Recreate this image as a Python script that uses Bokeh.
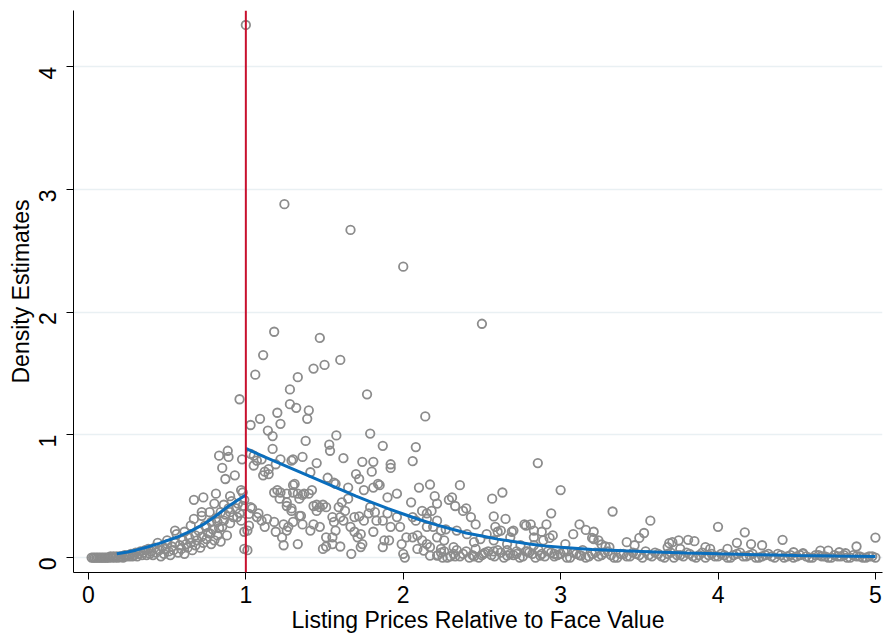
import math
from bokeh.plotting import figure
from bokeh.models import ColumnDataSource, Range1d, Span, FixedTicker
from bokeh.embed import file_html
from bokeh.resources import INLINE

# Kernel-density estimates of listing prices (price / face value)
# Each group holds (price ratio, density) pairs.
near_zero_low = [
    (0.02, 0.0), (0.03, 0.0), (0.04, 0.0), (0.05, 0.0), (0.06, 0.0), (0.07, 0.0),
    (0.08, 0.0), (0.09, 0.0), (0.10, 0.0), (0.11, 0.0), (0.12, 0.0), (0.13, 0.0),
    (0.14, 0.01), (0.15, 0.0), (0.16, 0.01), (0.17, 0.0), (0.18, 0.01), (0.19, 0.0),
    (0.20, 0.01), (0.21, 0.01), (0.22, 0.0), (0.23, 0.02), (0.24, 0.01), (0.25, 0.02),
    (0.26, 0.01), (0.27, 0.03), (0.28, 0.01), (0.29, 0.02), (0.30, 0.04), (0.31, 0.01),
    (0.32, 0.03), (0.33, 0.05), (0.34, 0.02), (0.35, 0.04), (0.36, 0.06), (0.37, 0.02),
    (0.38, 0.07), (0.39, 0.03), (0.40, 0.05),
]

below_face = [
    (0.41, 0.02), (0.42, 0.08), (0.43, 0.04), (0.44, 0.12), (0.45, 0.06), (0.46, 0.01),
    (0.47, 0.09), (0.48, 0.03), (0.49, 0.07), (0.50, 0.14), (0.50, 0.11), (0.51, 0.05),
    (0.52, 0.02), (0.53, 0.09), (0.54, 0.06), (0.55, 0.22), (0.55, 0.12), (0.56, 0.19),
    (0.57, 0.04), (0.58, 0.10), (0.59, 0.07), (0.60, 0.14), (0.61, 0.21), (0.61, 0.03),
    (0.62, 0.11), (0.63, 0.08), (0.64, 0.16), (0.65, 0.26), (0.65, 0.12), (0.66, 0.06),
    (0.67, 0.47), (0.67, 0.315), (0.68, 0.18), (0.68, 0.10), (0.69, 0.14), (0.70, 0.22),
    (0.71, 0.08), (0.72, 0.37), (0.72, 0.34), (0.72, 0.17), (0.73, 0.49), (0.73, 0.12),
    (0.74, 0.26), (0.75, 0.25), (0.75, 0.15), (0.76, 0.20), (0.77, 0.37), (0.775, 0.195),
    (0.78, 0.29), (0.78, 0.11), (0.79, 0.23), (0.80, 0.44), (0.80, 0.14), (0.81, 0.52),
    (0.81, 0.32), (0.82, 0.29), (0.82, 0.18), (0.83, 0.83), (0.83, 0.24), (0.84, 0.37),
    (0.84, 0.13), (0.85, 0.73), (0.85, 0.25), (0.86, 0.43), (0.86, 0.30), (0.87, 0.64),
    (0.87, 0.35), (0.88, 0.18), (0.885, 0.87), (0.89, 0.82), (0.89, 0.40), (0.90, 0.50),
    (0.90, 0.37), (0.90, 0.28), (0.91, 0.46), (0.92, 0.33), (0.93, 0.67), (0.94, 0.40),
    (0.945, 0.33), (0.95, 0.44), (0.96, 1.29), (0.96, 0.36), (0.97, 0.55), (0.97, 0.30),
    (0.976, 0.80), (0.98, 0.53), (0.98, 0.42), (0.99, 0.21), (0.99, 0.07), (0.99, 0.47),
]

above_face_a = [
    (1.0, 4.34), (1.01, 0.06), (1.01, 0.22), (1.02, 0.26), (1.02, 0.355), (1.03, 0.41),
    (1.03, 1.08), (1.03, 0.845), (1.04, 0.40), (1.05, 0.75), (1.05, 0.83), (1.06, 1.49),
    (1.07, 0.33), (1.07, 0.79), (1.08, 0.36), (1.09, 1.13), (1.10, 0.30), (1.10, 0.80),
    (1.11, 0.67), (1.11, 1.65), (1.12, 0.25), (1.12, 0.70), (1.135, 0.315), (1.145, 0.72),
    (1.145, 0.68), (1.14, 1.035), (1.17, 0.99), (1.17, 0.885), (1.18, 0.53), (1.18, 1.84),
    (1.18, 0.29), (1.19, 0.76), (1.19, 0.21), (1.20, 0.55), (1.20, 1.18), (1.215, 0.48),
    (1.22, 1.09), (1.22, 0.80), (1.22, 0.53), (1.23, 0.165), (1.24, 0.27), (1.24, 0.10),
    (1.245, 2.88), (1.26, 0.52), (1.26, 0.45), (1.26, 0.42), (1.26, 0.22), (1.27, 0.25),
    (1.28, 1.37), (1.28, 1.25), (1.29, 0.40), (1.29, 0.38), (1.29, 0.79), (1.30, 0.80),
    (1.30, 0.59), (1.30, 0.29), (1.30, 0.53), (1.31, 0.60), (1.32, 1.22), (1.33, 1.47),
    (1.33, 0.11), (1.33, 0.52), (1.34, 0.48), (1.34, 0.34), (1.35, 0.34), (1.36, 0.82),
    (1.36, 0.51), (1.36, 0.27), (1.37, 0.52), (1.38, 0.95), (1.39, 1.13), (1.40, 1.20),
    (1.40, 0.52), (1.41, 0.695), (1.41, 0.22), (1.42, 0.55), (1.43, 1.54), (1.43, 0.42),
    (1.43, 0.27), (1.45, 0.77), (1.45, 0.43), (1.45, 0.38), (1.47, 1.79), (1.47, 0.41),
    (1.47, 0.25), (1.49, 0.43), (1.49, 0.07), (1.50, 1.57), (1.51, 0.41), (1.51, 0.165),
    (1.51, 0.09), (1.52, 0.65), (1.53, 0.92), (1.535, 0.87), (1.55, 0.33), (1.55, 0.11),
    (1.55, 0.165), (1.56, 0.61), (1.56, 0.29), (1.57, 0.60), (1.57, 0.22), (1.575, 0.995),
    (1.59, 0.41), (1.60, 1.61), (1.60, 0.33), (1.60, 0.09),
]

above_face_b = [
    (1.61, 0.45), (1.62, 0.81), (1.62, 0.30), (1.63, 0.38), (1.65, 0.48), (1.65, 0.57),
    (1.665, 2.67), (1.665, 0.25), (1.67, 0.03), (1.69, 0.21), (1.69, 0.33), (1.70, 0.68),
    (1.71, 0.165), (1.72, 0.64), (1.72, 0.335), (1.73, 0.19), (1.73, 0.085), (1.74, 0.78),
    (1.74, 0.11), (1.75, 0.55), (1.75, 0.30), (1.77, 1.33), (1.78, 0.36), (1.79, 1.01),
    (1.79, 0.41), (1.80, 0.70), (1.81, 0.78), (1.81, 0.57), (1.81, 0.21), (1.82, 0.37),
    (1.83, 0.30), (1.84, 0.60), (1.85, 0.59), (1.87, 0.91), (1.87, 0.30), (1.87, 0.085),
    (1.88, 0.14), (1.90, 0.49), (1.90, 0.36), (1.91, 0.14), (1.92, 0.76), (1.92, 0.73),
    (1.92, 0.25), (1.96, 0.52), (1.96, 0.33), (1.98, 0.25), (1.99, 0.11), (2.0, 2.37),
    (2.0, 0.03), (2.01, 0.0), (2.02, 0.165), (2.05, 0.45), (2.06, 0.785), (2.06, 0.33),
    (2.06, 0.165), (2.08, 0.90), (2.08, 0.30), (2.09, 0.18), (2.09, 0.07), (2.10, 0.57),
    (2.12, 0.38), (2.12, 0.14), (2.13, 0.057), (2.14, 1.15), (2.15, 0.36), (2.15, 0.25),
    (2.15, 0.11), (2.15, 0.315), (2.17, 0.595), (2.17, 0.085), (2.17, 0.016), (2.18, 0.38),
    (2.19, 0.25), (2.20, 0.50), (2.215, 0.44), (2.215, 0.30), (2.215, 0.165), (2.215, 0.016),
]

above_face_c = [
    (2.24, 0.22), (2.24, 0.07), (2.25, 0.0), (2.26, 0.14), (2.27, 0.23), (2.29, 0.47),
    (2.31, 0.49), (2.32, 0.085), (2.33, 0.42), (2.33, 0.01), (2.34, 0.22), (2.36, 0.59),
    (2.38, 0.38), (2.40, 0.40), (2.405, 0.19), (2.43, 0.33), (2.45, 0.125), (2.45, 0.01),
    (2.46, 0.27), (2.49, 0.15), (2.50, 1.905), (2.51, 0.03), (2.53, 0.19), (2.565, 0.48),
    (2.575, 0.335), (2.575, 0.14), (2.575, 0.05), (2.585, 0.25), (2.60, 0.21), (2.62, 0.22),
    (2.63, 0.53), (2.65, 0.315), (2.66, 0.11), (2.66, 0.016), (2.68, 0.165), (2.69, 0.21),
    (2.70, 0.22), (2.72, 0.03), (2.745, 0.10), (2.77, 0.27), (2.78, 0.26), (2.79, 0.05),
    (2.81, 0.27), (2.83, 0.22), (2.83, 0.165), (2.83, 0.10), (2.855, 0.77), (2.87, 0.016),
    (2.88, 0.21), (2.89, 0.14), (2.91, 0.27), (2.93, 0.16), (2.94, 0.36), (2.95, 0.18),
    (2.96, 0.03), (3.0, 0.55), (3.03, 0.11), (3.04, 0.05), (3.08, 0.19), (3.12, 0.27),
    (3.13, 0.016), (3.16, 0.225), (3.20, 0.16), (3.21, 0.21), (3.21, 0.15),
]

high_ratio = [
    (3.24, 0.14), (3.26, 0.106), (3.285, 0.09), (3.31, 0.085), (3.33, 0.375), (3.42, 0.125),
    (3.47, 0.10), (3.50, 0.16), (3.53, 0.20), (3.57, 0.30), (3.68, 0.085), (3.69, 0.117),
    (3.71, 0.125), (3.75, 0.14), (3.76, 0.07), (3.81, 0.144), (3.85, 0.133), (3.92, 0.085),
    (3.95, 0.07), (4.0, 0.25), (4.06, 0.07), (4.12, 0.12), (4.17, 0.205), (4.21, 0.11),
    (4.28, 0.10), (4.41, 0.144), (4.48, 0.043), (4.54, 0.035), (4.65, 0.057), (4.70, 0.057),
    (4.77, 0.043), (4.81, 0.035), (4.88, 0.09), (5.0, 0.163),
]

near_zero_high = [
    (2.22, 0.02), (2.26, 0.05), (2.30, 0.01), (2.34, 0.06), (2.38, 0.03), (2.42, 0.00),
    (2.46, 0.07), (2.50, 0.02), (2.54, 0.05), (2.58, 0.01), (2.62, 0.04), (2.66, 0.06),
    (2.70, 0.02), (2.74, 0.00), (2.78, 0.05), (2.82, 0.03), (2.86, 0.06), (2.90, 0.01),
    (2.94, 0.04), (2.98, 0.02), (3.02, 0.05), (3.06, 0.00), (3.10, 0.03), (3.14, 0.06),
    (3.18, 0.01), (3.22, 0.04), (3.26, 0.02), (3.30, 0.05), (3.34, 0.00), (3.38, 0.03),
    (3.42, 0.01), (3.46, 0.04), (3.50, 0.02), (3.54, 0.05), (3.58, 0.01), (3.62, 0.03),
    (3.66, 0.00), (3.70, 0.04), (3.74, 0.02), (3.78, 0.01), (3.82, 0.03), (3.86, 0.00),
    (3.90, 0.04), (3.94, 0.02), (3.98, 0.01), (4.02, 0.03), (4.06, 0.00), (4.10, 0.02),
    (4.14, 0.04), (4.18, 0.01), (4.22, 0.03), (4.26, 0.00), (4.30, 0.02), (4.34, 0.01),
    (4.38, 0.03), (4.42, 0.00), (4.46, 0.02), (4.50, 0.01), (4.54, 0.03), (4.58, 0.00),
    (4.62, 0.02), (4.66, 0.01), (4.70, 0.00), (4.74, 0.02), (4.78, 0.01), (4.82, 0.00),
    (4.86, 0.02), (4.90, 0.01), (4.94, 0.00), (4.98, 0.01),
    (2.24, 0.04), (2.28, 0.00), (2.32, 0.03), (2.36, 0.01), (2.40, 0.05), (2.44, 0.02),
    (2.48, 0.00), (2.52, 0.04), (2.56, 0.02), (2.60, 0.06), (2.64, 0.00), (2.68, 0.03),
    (2.72, 0.05), (2.76, 0.01), (2.80, 0.04), (2.84, 0.00), (2.88, 0.03), (2.92, 0.05),
    (2.96, 0.01), (3.00, 0.03), (3.04, 0.00), (3.08, 0.04), (3.12, 0.02), (3.16, 0.00),
    (3.20, 0.03), (3.24, 0.01), (3.28, 0.04), (3.32, 0.02), (3.36, 0.00), (3.40, 0.03),
    (3.44, 0.01), (3.48, 0.03), (3.52, 0.00), (3.56, 0.02), (3.60, 0.04), (3.64, 0.01),
    (3.68, 0.03), (3.72, 0.00), (3.76, 0.02), (3.80, 0.04), (3.84, 0.01), (3.88, 0.02),
    (3.92, 0.00), (3.96, 0.03), (4.00, 0.01), (4.04, 0.02), (4.08, 0.00), (4.12, 0.03),
    (4.16, 0.01), (4.20, 0.02), (4.24, 0.00), (4.28, 0.01), (4.32, 0.03), (4.36, 0.00),
    (4.40, 0.02), (4.44, 0.01), (4.48, 0.00), (4.52, 0.02), (4.56, 0.01), (4.60, 0.00),
    (4.64, 0.02), (4.68, 0.01), (4.72, 0.00), (4.76, 0.01), (4.80, 0.02), (4.84, 0.00),
    (4.88, 0.01), (4.92, 0.00), (4.96, 0.01), (5.00, 0.00),
]

# Fitted density below and above face value
fit_below_x = [0.18, 0.25, 0.30, 0.37, 0.45, 0.56, 0.65, 0.73, 0.80, 0.88, 0.94, 1.0]
fit_below_y = [0.03, 0.045, 0.06, 0.084, 0.115, 0.165, 0.215, 0.27, 0.33, 0.41, 0.46, 0.51]
fit_above_x = [1.0, 1.1, 1.2, 1.3, 1.4, 1.5, 1.6, 1.7, 1.8, 1.9, 2.0, 2.1, 2.2, 2.3, 2.4,
               2.5, 2.6, 2.7, 2.8, 2.9, 3.0, 3.2, 3.4, 3.6, 3.8, 4.0, 4.25, 4.5, 4.75, 5.0]
fit_above_y = [0.89, 0.83, 0.775, 0.72, 0.665, 0.61, 0.555, 0.50, 0.45, 0.40, 0.355, 0.31,
               0.27, 0.235, 0.20, 0.175, 0.15, 0.13, 0.11, 0.095, 0.083, 0.066, 0.055,
               0.045, 0.037, 0.03, 0.023, 0.017, 0.012, 0.008]

face_value = 1.0
x_ticks = [0, 1, 2, 3, 4, 5]
y_ticks = [0, 1, 2, 3, 4]

points = near_zero_low + below_face + above_face_a + above_face_b + above_face_c + high_ratio + near_zero_high
src = ColumnDataSource(dict(x=[p[0] for p in points], y=[p[1] for p in points]))

FONT = "Liberation Sans"

p = figure(width=885, height=639, output_backend="svg", toolbar_location=None,
           x_range=Range1d(-0.095, 5.045), y_range=Range1d(-0.122, 4.458),
           min_border_left=73, min_border_right=3, min_border_top=10, min_border_bottom=67)
p.outline_line_color = None
p.background_fill_color = "white"
p.border_fill_color = "white"

p.xgrid.grid_line_color = None
p.ygrid.grid_line_color = "#e9f0f3"
p.ygrid.grid_line_width = 1.5

p.scatter("x", "y", source=src, marker="circle", size=8.5, fill_color=None,
          line_color="#8c8c8c", line_width=1.8)

p.line(fit_below_x, fit_below_y, line_color="#0a6ebd", line_width=3)
p.line(fit_above_x, fit_above_y, line_color="#0a6ebd", line_width=3)

p.add_layout(Span(location=face_value, dimension="height", line_color="#c8102e", line_width=2))

for ax in (p.xaxis[0], p.yaxis[0]):
    ax.axis_line_color = "black"
    ax.axis_line_width = 1
    ax.major_tick_line_color = "black"
    ax.major_tick_out = 7
    ax.major_tick_in = 0
    ax.minor_tick_line_color = None
    ax.major_label_text_font = FONT
    ax.major_label_text_font_size = "23px"
    ax.major_label_text_color = "black"
    ax.axis_label_text_font = FONT
    ax.axis_label_text_font_size = "23px"
    ax.axis_label_text_font_style = "normal"
    ax.axis_label_text_color = "black"

p.xaxis.ticker = FixedTicker(ticks=x_ticks)
p.yaxis.ticker = FixedTicker(ticks=y_ticks)
p.xaxis.axis_label = "Listing Prices Relative to Face Value"
p.yaxis.axis_label = "Density Estimates"
p.xaxis.major_label_standoff = 6
p.xaxis.axis_label_standoff = 1
p.yaxis.major_label_orientation = math.pi / 2
p.yaxis.major_label_standoff = 19
p.yaxis.axis_label_standoff = -6

open("out.html", "w").write(file_html(p, INLINE))
